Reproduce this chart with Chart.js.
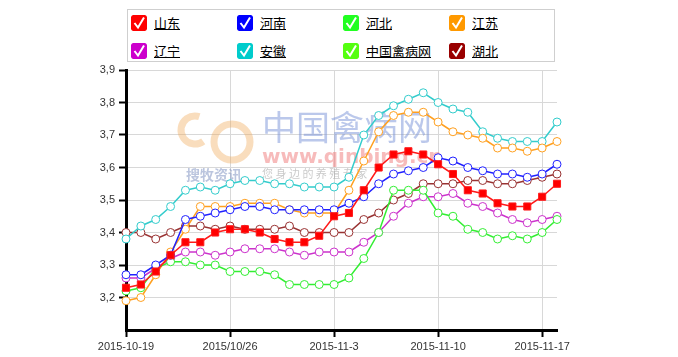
<!DOCTYPE html>
<html>
<head>
<meta charset="utf-8">
<script src="https://cdn.jsdelivr.net/npm/chart.js@4/dist/chart.umd.min.js"></script>
<style>
  html, body { margin: 0; padding: 0; background: #fff; }
  #wrap { position: relative; width: 678px; height: 357px; overflow: hidden; }
  #c { position: absolute; left: 0; top: 0; }
  #legend { position: absolute; left: 127px; top: 9px; width: 428px; height: 53px;
            border: 1px solid #cfcfcf; box-sizing: border-box; background: #fff; }
  .item { position: absolute; height: 16px; display: flex; align-items: center;
          font-family: "Noto Sans CJK SC", sans-serif; font-size: 13px; color: #000; }
  .box { width: 16px; height: 16px; border-radius: 2px; margin-right: 7px; display: block; }
  .txt { text-decoration: underline; line-height: 16px; }
</style>
</head>
<body>
<div id="wrap">
  <canvas id="c" width="678" height="357"></canvas>
  <div id="legend"></div>
</div>
<script>
// ---- data ----
const categories = [
  '2015-10-19','2015-10-20','2015-10-21','2015-10-22','2015-10-23','2015-10-24','2015-10-25',
  '2015/10/26','2015-10-27','2015-10-28','2015-10-29','2015-10-30','2015-10-31','2015-11-2',
  '2015-11-3','2015-11-4','2015-11-5','2015-11-6','2015-11-7','2015-11-8','2015-11-9',
  '2015-11-10','2015-11-11','2015-11-12','2015-11-13','2015-11-14','2015-11-15','2015-11-16',
  '2015-11-17','2015-11-18'
];
const tickLabels = ['2015-10-19','2015/10/26','2015-11-3','2015-11-10','2015-11-17'];
const yTicks = [3.2, 3.3, 3.4, 3.5, 3.6, 3.7, 3.8, 3.9];

const seriesNames = ['山东','河南','河北','江苏','辽宁','安徽','中国禽病网','湖北'];
const shandong = [3.23,3.24,3.28,3.33,3.37,3.37,3.40,3.41,3.41,3.40,3.38,3.37,3.37,3.39,3.45,3.46,3.53,3.60,3.64,3.65,3.64,3.61,3.58,3.53,3.52,3.49,3.48,3.48,3.51,3.55];
const henan    = [3.27,3.27,3.30,3.33,3.44,3.45,3.46,3.47,3.48,3.48,3.47,3.47,3.47,3.47,3.47,3.49,3.51,3.55,3.58,3.59,3.60,3.63,3.62,3.60,3.59,3.58,3.58,3.57,3.58,3.61];
const hebei    = [3.22,3.23,3.29,3.31,3.31,3.30,3.30,3.28,3.28,3.28,3.27,3.24,3.24,3.24,3.24,3.26,3.32,3.40,3.53,3.53,3.53,3.46,3.45,3.41,3.40,3.38,3.39,3.38,3.40,3.44];
const jiangsu  = [3.19,3.20,3.27,3.34,3.41,3.48,3.48,3.48,3.49,3.49,3.49,3.47,3.46,3.46,3.46,3.53,3.62,3.71,3.76,3.77,3.77,3.74,3.71,3.70,3.69,3.66,3.66,3.65,3.66,3.68];
const liaoning = [3.26,3.26,3.29,3.32,3.34,3.34,3.33,3.34,3.35,3.35,3.35,3.34,3.33,3.34,3.34,3.34,3.37,3.40,3.45,3.49,3.51,3.51,3.52,3.49,3.48,3.46,3.44,3.43,3.44,3.45];
const anhui    = [3.38,3.42,3.44,3.48,3.53,3.54,3.53,3.55,3.56,3.56,3.55,3.55,3.54,3.54,3.54,3.57,3.70,3.76,3.79,3.81,3.83,3.80,3.78,3.77,3.71,3.69,3.68,3.68,3.68,3.74];
const qinbing  = [];
const hubei    = [3.40,3.40,3.38,3.40,3.42,3.42,3.41,3.42,3.41,3.41,3.41,3.42,3.40,3.40,3.40,3.40,3.44,3.46,3.50,3.52,3.55,3.55,3.55,3.56,3.56,3.55,3.55,3.56,3.57,3.58];

const seriesData = [shandong, henan, hebei, jiangsu, liaoning, anhui, qinbing, hubei];
const lineColors = ['#ff1a1a','#2020ff','#33ee33','#ffa020','#cc33cc','#33cccc','#55ff11','#993333'];
const boxColors  = ['#ff0000','#0000ff','#22ff22','#ff9900','#cc00cc','#00cccc','#55ff11','#990000'];

// ---- legend (HTML) ----
const legend = document.getElementById('legend');
seriesNames.forEach((n, i) => {
  const d = document.createElement('div');
  d.className = 'item';
  d.style.left = (3 + (i % 4) * 106) + 'px';
  d.style.top = (5 + Math.floor(i / 4) * 28) + 'px';
  d.innerHTML = '<svg class="box" viewBox="0 0 16 16"><rect x="0" y="0" width="16" height="16" rx="2" fill="' + boxColors[i] +
    '"/><polyline points="3.5,8 7,12.5 13,2.5" fill="none" stroke="#fff" stroke-width="2"/></svg><span class="txt">' + n + '</span>';
  legend.appendChild(d);
});

// ---- watermark plugin ----
const watermark = {
  id: 'watermark',
  beforeDatasetsDraw(chart) {
    const ctx = chart.ctx;
    ctx.save();
    ctx.textBaseline = 'alphabetic';
    ctx.fillStyle = 'rgba(120,145,215,0.5)';
    ctx.font = '34px "Noto Sans CJK SC"';
    ctx.fillText('中国禽病网', 262, 140);
    ctx.fillStyle = 'rgba(240,120,120,0.5)';
    ctx.font = 'bold 20px "DejaVu Sans"';
    ctx.fillText('www.qinbing.cn', 262, 163);
    ctx.fillStyle = 'rgba(120,140,190,0.5)';
    ctx.font = 'bold 14px "Noto Sans CJK SC"';
    ctx.fillText('搜牧资讯', 186, 180);
    ctx.fillStyle = 'rgba(150,150,150,0.5)';
    ctx.font = '11px "Noto Sans CJK SC"';
    ctx.fillText('您 身 边 的 养 殖 专 家', 262, 178);
    ctx.strokeStyle = 'rgba(240,170,90,0.4)';
    ctx.lineWidth = 7;
    ctx.beginPath(); ctx.arc(232, 142, 18, 0, Math.PI * 2); ctx.stroke();
    ctx.beginPath(); ctx.arc(195, 130, 14, Math.PI * 0.3, Math.PI * 1.6); ctx.stroke();
    ctx.restore();
  }
};

const datasets = seriesNames.map((n, i) => ({
  label: n,
  data: seriesData[i],
  borderColor: lineColors[i],
  borderWidth: 1.5,
  pointStyle: i === 0 ? 'rect' : 'circle',
  pointRadius: i === 0 ? 5 : 4,
  pointBorderWidth: 1,
  pointBorderColor: lineColors[i],
  pointBackgroundColor: i === 0 ? '#ff0000' : '#ffffff',
  tension: 0,
  clip: false
}));

new Chart(document.getElementById('c'), {
  type: 'line',
  data: { labels: categories, datasets: datasets },
  plugins: [watermark],
  options: {
    responsive: false,
    animation: false,
    layout: { padding: { top: 70, right: 121, left: 0, bottom: 0 } },
    plugins: { legend: { display: false }, tooltip: { enabled: false } },
    scales: {
      x: {
        type: 'category',
        offset: false,
        afterFit(s) { s.height = 27; },
        border: { color: '#000', width: 3 },
        grid: {
          color: c => tickLabels.includes(categories[c.index]) ? '#d8d8d8' : 'rgba(0,0,0,0)',
          tickColor: c => tickLabels.includes(categories[c.index]) ? '#000' : 'rgba(0,0,0,0)',
          tickLength: 7, tickWidth: 2, lineWidth: 1
        },
        ticks: {
          autoSkip: false, maxRotation: 0, minRotation: 0, padding: 3,
          color: '#333', font: { family: 'Liberation Sans, Arial', size: 11 },
          callback(v, i) { const l = categories[i]; return tickLabels.includes(l) ? l : ''; }
        }
      },
      y: {
        min: 3.1, max: 3.9,
        afterFit(s) { s.width = 126; },
        afterBuildTicks(s) { s.ticks = [3.1].concat(yTicks).map(v => ({ value: v })); },
        border: { color: '#000', width: 3 },
        grid: {
          color: c => (c.tick && c.tick.value > 3.15) ? '#d8d8d8' : 'rgba(0,0,0,0)',
          tickColor: c => (c.tick && c.tick.value > 3.15) ? '#000' : 'rgba(0,0,0,0)',
          tickLength: 7, tickWidth: 2, lineWidth: 1
        },
        ticks: {
          padding: 4, color: '#333', font: { family: 'Liberation Sans, Arial', size: 11 },
          callback(v) { return v > 3.15 ? v.toFixed(1).replace('.', ',') : ''; }
        }
      }
    }
  }
});
</script>
</body>
</html>
